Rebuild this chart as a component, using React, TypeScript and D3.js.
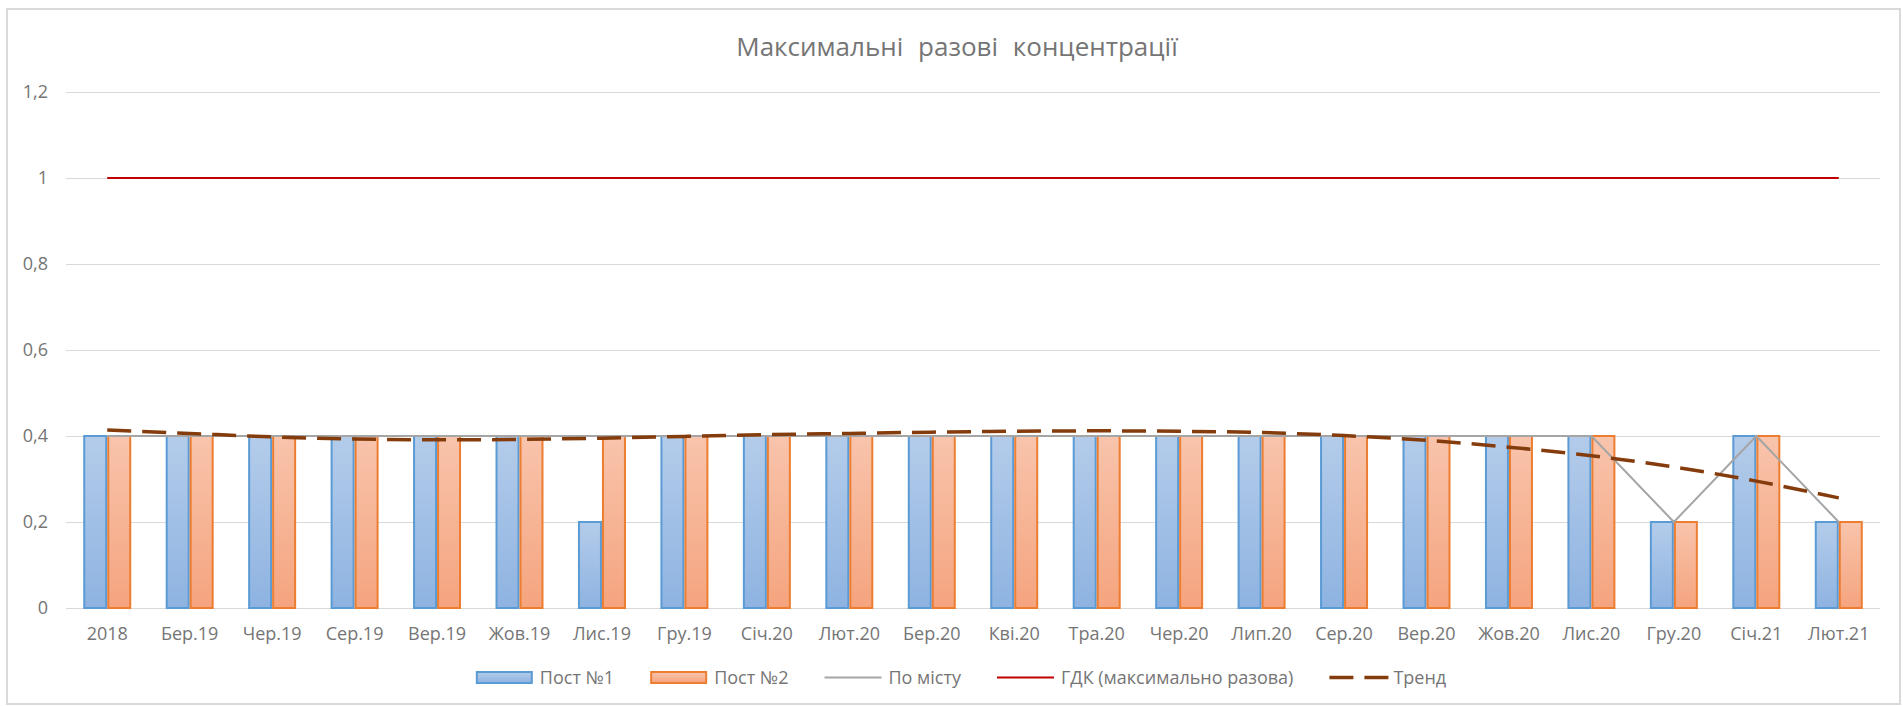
import { useRef, useEffect } from 'react';
import * as d3 from 'd3';

// chart data
const categories = ['2018', 'Бер.19', 'Чер.19', 'Сер.19', 'Вер.19', 'Жов.19', 'Лис.19', 'Гру.19', 'Січ.20', 'Лют.20', 'Бер.20',
  'Кві.20', 'Тра.20', 'Чер.20', 'Лип.20', 'Сер.20', 'Вер.20', 'Жов.20', 'Лис.20', 'Гру.20', 'Січ.21', 'Лют.21'];
const post1 = [0.4, 0.4, 0.4, 0.4, 0.4, 0.4, 0.2, 0.4, 0.4, 0.4, 0.4, 0.4, 0.4, 0.4, 0.4, 0.4, 0.4, 0.4, 0.4, 0.2, 0.4, 0.2];
const post2 = [0.4, 0.4, 0.4, 0.4, 0.4, 0.4, 0.4, 0.4, 0.4, 0.4, 0.4, 0.4, 0.4, 0.4, 0.4, 0.4, 0.4, 0.4, 0.4, 0.2, 0.4, 0.2];
const city = [0.4, 0.4, 0.4, 0.4, 0.4, 0.4, 0.4, 0.4, 0.4, 0.4, 0.4, 0.4, 0.4, 0.4, 0.4, 0.4, 0.4, 0.4, 0.4, 0.2, 0.4, 0.2];
const gdk = [1, 1, 1, 1, 1, 1, 1, 1, 1, 1, 1, 1, 1, 1, 1, 1, 1, 1, 1, 1, 1, 1];
const trend = [0.414, 0.406, 0.398, 0.393, 0.391, 0.392, 0.395, 0.399, 0.403, 0.406, 0.409,
  0.411, 0.412, 0.411, 0.408, 0.401, 0.39, 0.374, 0.354, 0.328, 0.295, 0.256];
const yTicks = [0, 0.2, 0.4, 0.6, 0.8, 1, 1.2];
const seriesNames = ['Пост №1', 'Пост №2', 'По місту', 'ГДК (максимально разова)', 'Тренд'];

const W = 1903, H = 706;
const FONT = "'Open Sans', sans-serif";
const TEXT = '#757575';

const App = () => {
  const ref = useRef<SVGSVGElement>(null);

  useEffect(() => {
    const svg = d3.select(ref.current);
    svg.selectAll('*').remove();

    const defs = svg.append('defs');
    const grad = (id: string, top: string, bottom: string) => {
      const g = defs.append('linearGradient').attr('id', id).attr('x1', 0).attr('y1', 0).attr('x2', 0).attr('y2', 1);
      g.append('stop').attr('offset', '0%').attr('stop-color', top);
      g.append('stop').attr('offset', '100%').attr('stop-color', bottom);
    };
    grad('gBlue', '#B4CCEA', '#8EB3E1');
    grad('gOrange', '#F8C4AC', '#F5A47E');

    // outer frame
    svg.append('rect').attr('x', 7).attr('y', 9).attr('width', 1893).attr('height', 695).attr('fill', '#fff')
      .attr('stroke', '#D9D9D9').attr('stroke-width', 2);

    svg.append('text').attr('x', 957).attr('y', 56).attr('text-anchor', 'middle')
      .style('font-family', FONT).style('font-size', '26px').style('word-spacing', '8px').attr('fill', TEXT)
      .text('Максимальні разові концентрації');

    const x = d3.scaleBand().domain(categories).range([66, 1880]).paddingInner(0.418).paddingOuter(0.209);
    const xs = d3.scaleBand().domain(['a', 'b']).range([0, x.bandwidth()]);
    const y = d3.scaleLinear().domain([0, 1.2]).range([608, 92]);
    const cx = (i: number) => (x(categories[i]) as number) + x.bandwidth() / 2;
    const fmt = (v: number) => d3.format('.1~f')(v).replace('.', ',');

    // grid + y labels
    const grid = svg.append('g');
    grid.selectAll('line').data(yTicks).join('line')
      .attr('x1', 66).attr('x2', 1880).attr('y1', d => Math.round(y(d)) + 0.5).attr('y2', d => Math.round(y(d)) + 0.5)
      .attr('stroke', '#D9D9D9').attr('stroke-width', 1);
    grid.selectAll('text').data(yTicks).join('text')
      .attr('x', 48).attr('y', d => y(d)).attr('dy', '0.35em').attr('text-anchor', 'end')
      .style('font-family', FONT).style('font-size', '18px').attr('fill', TEXT).text(d => fmt(d));

    // x labels
    svg.append('g').selectAll('text').data(categories).join('text')
      .attr('x', (d, i) => cx(i)).attr('y', 640).attr('text-anchor', 'middle')
      .style('font-family', FONT).style('font-size', '18px').attr('fill', TEXT).text(d => d);

    // bars
    const bars = svg.append('g');
    const drawBars = (vals: number[], key: string, fill: string, stroke: string) => {
      bars.append('g').selectAll('rect').data(vals).join('rect')
        .attr('x', (d, i) => (x(categories[i]) as number) + (xs(key) as number) + 1)
        .attr('y', d => y(d))
        .attr('width', xs.bandwidth() - 2)
        .attr('height', d => y(0) - y(d))
        .attr('fill', fill).attr('stroke', stroke).attr('stroke-width', 2);
    };
    drawBars(post1, 'a', 'url(#gBlue)', '#5B9BD5');
    drawBars(post2, 'b', 'url(#gOrange)', '#ED7D31');

    // lines
    const line = d3.line<number>().x((d, i) => cx(i)).y(d => y(d));
    svg.append('path').datum(city).attr('d', line).attr('fill', 'none').attr('stroke', '#A5A5A5').attr('stroke-width', 2);
    svg.append('path').datum(gdk).attr('d', line).attr('fill', 'none').attr('stroke', '#C00000').attr('stroke-width', 2.2);
    const smooth = d3.line<number>().x((d, i) => cx(i)).y(d => y(d)).curve(d3.curveMonotoneX);
    svg.append('path').datum(trend).attr('d', smooth).attr('fill', 'none').attr('stroke', '#843C0C')
      .attr('stroke-width', 3.5).attr('stroke-dasharray', '24 11');

    // legend
    const legend = svg.append('g');
    const keyW = 57, gapText = 7, gapItem = 36;
    const items = legend.selectAll('g').data(seriesNames).join('g');
    items.append('text').attr('y', 684).style('font-family', FONT).style('font-size', '18px').attr('fill', TEXT).text(d => d);
    const widths: number[] = [];
    items.select('text').each(function () { widths.push((this as SVGTextElement).getComputedTextLength()); });
    const total = d3.sum(widths) + seriesNames.length * (keyW + gapText) + (seriesNames.length - 1) * gapItem;
    let pos = 961 - total / 2;
    items.each(function (d, i) {
      const g = d3.select(this);
      g.attr('transform', `translate(${pos},0)`);
      g.select('text').attr('x', keyW + gapText);
      if (i < 2) {
        g.append('rect').attr('x', 1).attr('y', 672).attr('width', keyW - 2).attr('height', 11)
          .attr('fill', i === 0 ? 'url(#gBlue)' : 'url(#gOrange)').attr('stroke', i === 0 ? '#5B9BD5' : '#ED7D31').attr('stroke-width', 2);
      } else {
        const ln = g.append('line').attr('x1', 0).attr('x2', keyW).attr('y1', 677.5).attr('y2', 677.5);
        if (i === 2) ln.attr('stroke', '#A5A5A5').attr('stroke-width', 2);
        if (i === 3) ln.attr('stroke', '#C00000').attr('stroke-width', 2.2);
        if (i === 4) ln.attr('x2', keyW + 3).attr('stroke', '#843C0C').attr('stroke-width', 3.5).attr('stroke-dasharray', '24 11');
      }
      pos += keyW + gapText + widths[i] + gapItem;
    });
  }, []);

  return (
    <svg ref={ref} width={W} height={H} style={{ position: 'absolute', left: 0, top: 0, display: 'block' }} />
  );
};

export default App;
